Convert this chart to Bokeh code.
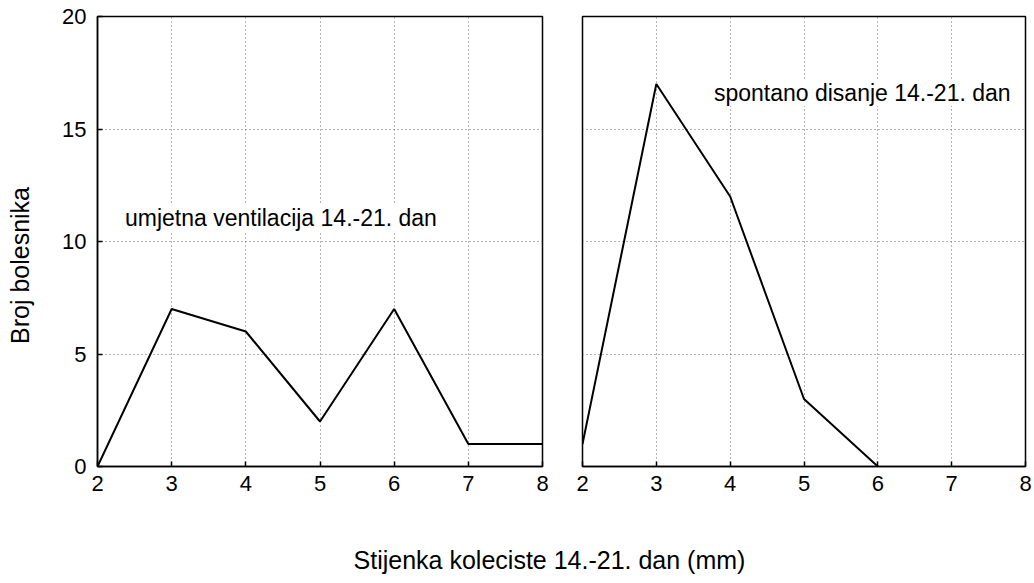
import math
from bokeh.plotting import figure
from bokeh.layouts import row, column
from bokeh.models import Label, Range1d, FixedTicker
from bokeh.embed import file_html
from bokeh.resources import INLINE

x_left = [2, 3, 4, 5, 6, 7, 8]
y_left = [0, 7, 6, 2, 7, 1, 1]
x_right = [2, 3, 4, 5, 6]
y_right = [1, 17, 12, 3, 0]
x_ticks = [2, 3, 4, 5, 6, 7, 8]
y_ticks = [0, 5, 10, 15, 20]
label_left = "umjetna ventilacija 14.-21. dan"
label_right = "spontano disanje 14.-21. dan"
y_title = "Broj bolesnika"
x_title = "Stijenka koleciste 14.-21. dan (mm)"

FONT = "Liberation Sans"
TITLE_W = 40


def make_panel(width, border_left, border_right, show_y):
    p = figure(width=width, height=506, output_backend="svg", toolbar_location=None,
               x_range=Range1d(2, 8), y_range=Range1d(0, 20),
               min_border_left=border_left, min_border_right=border_right,
               min_border_top=16, min_border_bottom=40)
    p.outline_line_color = "black"
    p.outline_line_width = 1.5
    p.xaxis.ticker = FixedTicker(ticks=x_ticks)
    p.yaxis.ticker = FixedTicker(ticks=y_ticks)
    for ax in p.axis:
        ax.major_tick_in = 5
        ax.major_tick_out = 0
        ax.minor_tick_line_color = None
        ax.axis_line_color = "black"
        ax.axis_line_width = 1.5
        ax.major_tick_line_width = 1.5
        ax.major_label_text_font = FONT
        ax.major_label_text_font_size = "22px"
        ax.major_label_text_color = "black"
    p.xaxis.major_label_standoff = 9
    if show_y:
        p.yaxis.major_label_standoff = 11
    else:
        p.yaxis.visible = False
    p.grid.grid_line_color = "#666666"
    p.grid.grid_line_dash = "1 3"
    p.grid.grid_line_width = 1
    p.background_fill_color = "white"
    p.border_fill_color = "white"
    return p


# narrow strip holding the y-axis title
ytitle = figure(width=TITLE_W, height=506, output_backend="svg", toolbar_location=None,
                x_range=Range1d(0, 1), y_range=Range1d(0, 1), min_border=0)
ytitle.axis.visible = False
ytitle.grid.visible = False
ytitle.outline_line_color = None
ytitle.add_layout(Label(x=19, y=201, x_units="screen", y_units="screen",
                        text=y_title, text_font=FONT, text_font_size="25px",
                        text_align="center", text_baseline="middle",
                        angle=math.pi / 2, text_color="black"))

left = make_panel(97 - TITLE_W + 445 + 20, 97 - TITLE_W, 20, True)
left.line(x_left, y_left, line_color="black", line_width=2)
left.add_layout(Label(x=2.37, y=11.05, text=label_left, text_font=FONT,
                      text_font_size="23px", text_baseline="middle",
                      text_color="black", background_fill_color="white"))

right = make_panel(20 + 443 + 9, 20, 9, False)
right.line(x_right, y_right, line_color="black", line_width=2)
right.add_layout(Label(x=3.78, y=16.6, text=label_right, text_font=FONT,
                       text_font_size="23px", text_baseline="middle",
                       text_color="black", background_fill_color="white"))

bottom = figure(width=1034, height=77, output_backend="svg", toolbar_location=None,
                x_range=Range1d(0, 1), y_range=Range1d(0, 1),
                min_border=0)
bottom.axis.visible = False
bottom.grid.visible = False
bottom.outline_line_color = None
bottom.add_layout(Label(x=549, y=24, x_units="screen", y_units="screen",
                        text=x_title, text_font=FONT, text_font_size="25px",
                        text_align="center", text_baseline="alphabetic",
                        text_color="black"))

layout = column(row(ytitle, left, right), bottom)
open("out.html", "w").write(file_html(layout, INLINE))
